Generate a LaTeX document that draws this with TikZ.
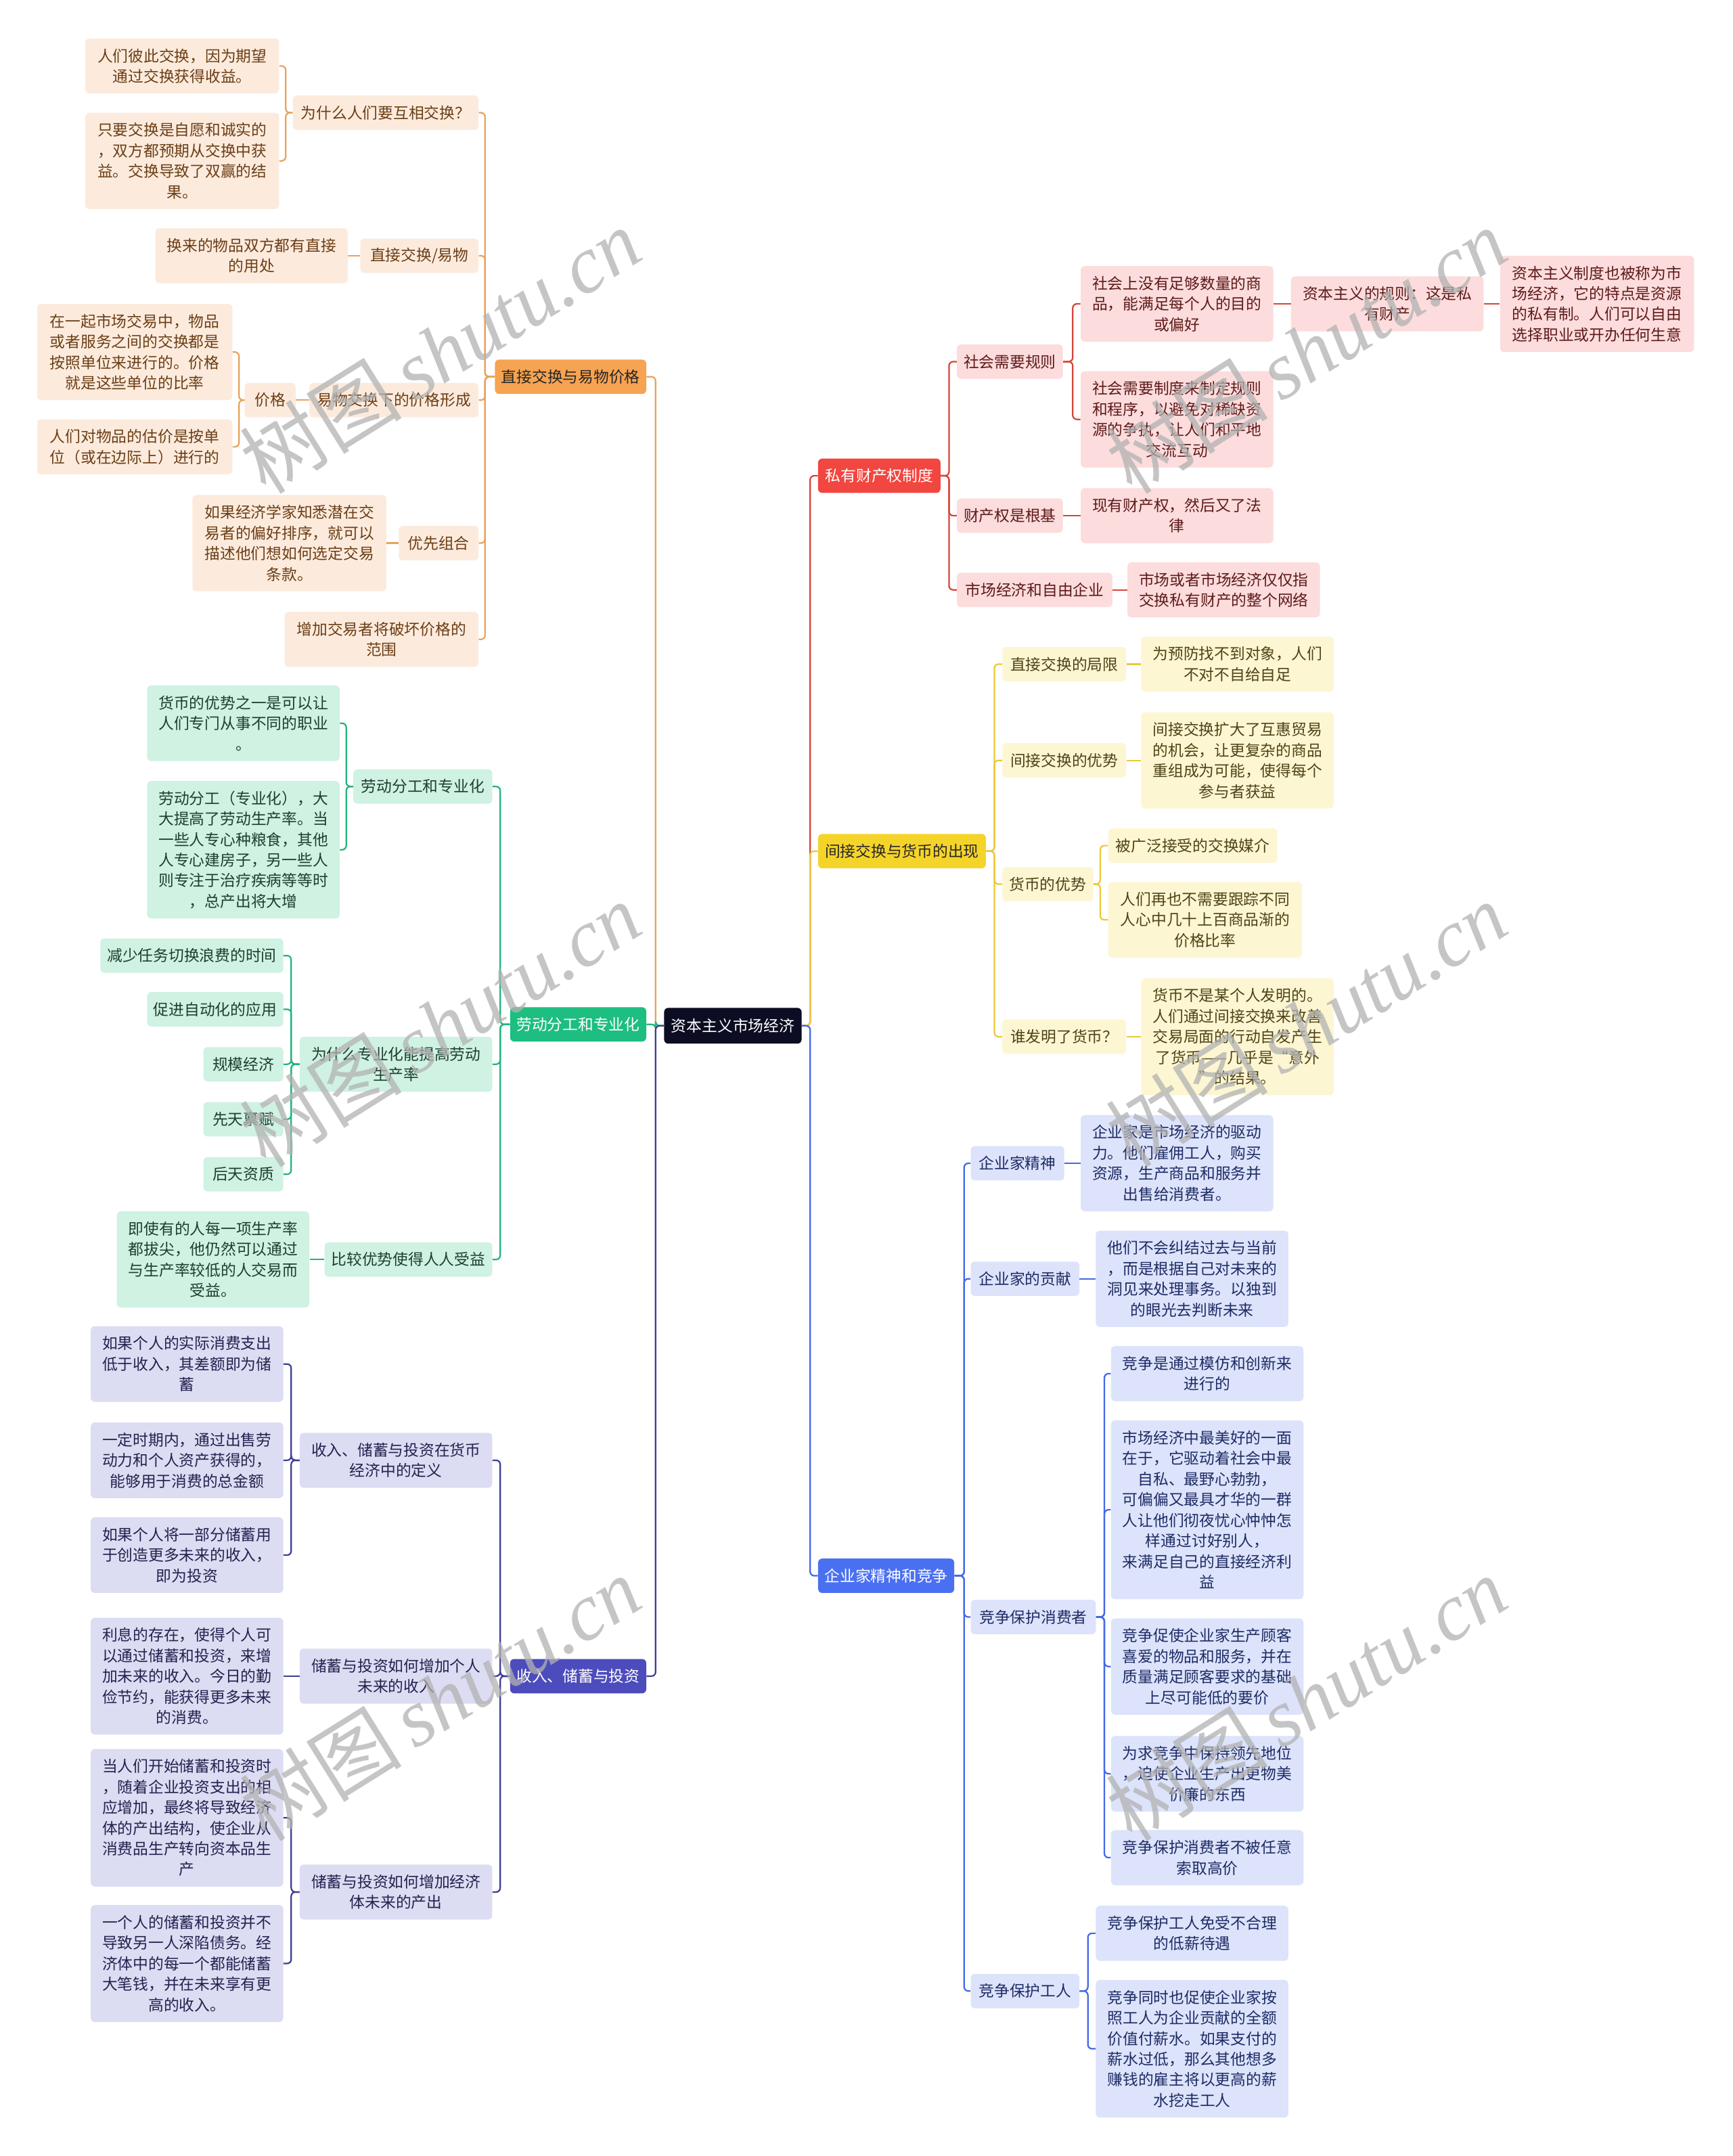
\documentclass[tikz,border=0pt]{standalone}
\usepackage{fontspec}
\setmainfont{Noto Sans CJK SC}
\newfontfamily\wmlatin{Liberation Serif}
\newfontfamily\wmcjk{Noto Sans CJK SC}
\definecolor{rootF}{HTML}{0C0C22}
\definecolor{oL}{HTML}{E9A25C}\definecolor{oM}{HTML}{F6A352}\definecolor{oF}{HTML}{FCEBDD}\definecolor{oT}{HTML}{6B3E16}
\definecolor{gL}{HTML}{22B47C}\definecolor{gM}{HTML}{1DBE80}\definecolor{gF}{HTML}{CFF2E2}\definecolor{gT}{HTML}{1F3D30}
\definecolor{pL}{HTML}{3D3D96}\definecolor{pM}{HTML}{4C4CBD}\definecolor{pF}{HTML}{DCDCF3}\definecolor{pT}{HTML}{22224E}
\definecolor{rL}{HTML}{D6453B}\definecolor{rM}{HTML}{F24640}\definecolor{rF}{HTML}{FCDCDC}\definecolor{rT}{HTML}{5E1A1A}
\definecolor{yL}{HTML}{EDC73A}\definecolor{yM}{HTML}{F5D42A}\definecolor{yF}{HTML}{FDF6D2}\definecolor{yT}{HTML}{4E4216}
\definecolor{bL}{HTML}{4468E6}\definecolor{bM}{HTML}{4A70F2}\definecolor{bF}{HTML}{DCE3FB}\definecolor{bT}{HTML}{1E2B63}
\tikzset{
  base/.style={rounded corners=3pt, align=center, inner sep=0pt, font=\fontsize{11.2pt}{15pt}\selectfont},
  rootbox/.style={base, fill=rootF, text=white},
  obr/.style={base, fill=oM, text=black!85},
  ob/.style={base, fill=oF, text=oT},
  gbr/.style={base, fill=gM, text=white},
  gb/.style={base, fill=gF, text=gT},
  pbr/.style={base, fill=pM, text=white},
  pb/.style={base, fill=pF, text=pT},
  rbr/.style={base, fill=rM, text=white},
  rb/.style={base, fill=rF, text=rT},
  ybr/.style={base, fill=yM, text=black!85},
  yb/.style={base, fill=yF, text=yT},
  bbr/.style={base, fill=bM, text=white},
  bb/.style={base, fill=bF, text=bT},
  ol/.style={draw=oL, line width=1.1pt, rounded corners=3pt},
  gl/.style={draw=gL, line width=1.1pt, rounded corners=3pt},
  pl/.style={draw=pL, line width=1.1pt, rounded corners=3pt},
  rl/.style={draw=rL, line width=1.1pt, rounded corners=3pt},
  yl/.style={draw=yL, line width=1.1pt, rounded corners=3pt},
  bl/.style={draw=bL, line width=1.1pt, rounded corners=3pt},
  wm/.style={rotate=32, text=black!30, text opacity=0.75, inner sep=0pt, font=\fontsize{59pt}{60pt}\selectfont}
}
\newcommand\mmnode[7]{\node[#2, minimum width=#5pt, minimum height=#6pt] (#1) at (#3,#4) {#7};}
\begin{document}
\begin{tikzpicture}[x=1pt,y=-1pt]
\fill[white] (0,0) rectangle (1260,1568);
\useasboundingbox (0,0) rectangle (1260,1568);

% root
\mmnode{R0}{rootbox}{533}{746}{100}{26}{资本主义市场经济}

% ===== orange =====
\mmnode{BrO}{obr}{415}{274}{110}{25}{直接交换与易物价格}
\mmnode{A}{ob}{280.5}{82}{135}{25}{为什么人们要互相交换？}
\mmnode{A1}{ob}{132.5}{48}{141}{40}{人们彼此交换，因为期望\\通过交换获得收益。}
\mmnode{A2}{ob}{132.5}{117}{141}{70}{只要交换是自愿和诚实的\\，双方都预期从交换中获\\益。交换导致了双赢的结\\果。}
\mmnode{B}{ob}{305}{186}{86}{25}{直接交换/易物}
\mmnode{B1}{ob}{183}{186}{140}{40}{换来的物品双方都有直接\\的用处}
\mmnode{C0}{ob}{286.5}{291}{123}{25}{易物交换下的价格形成}
\mmnode{C}{ob}{196.5}{291}{37}{25}{价格}
\mmnode{C1}{ob}{98}{256}{142}{70}{在一起市场交易中，物品\\或者服务之间的交换都是\\按照单位来进行的。价格\\就是这些单位的比率}
\mmnode{C2}{ob}{98}{325}{142}{40}{人们对物品的估价是按单\\位（或在边际上）进行的}
\mmnode{D}{ob}{319}{395}{58}{25}{优先组合}
\mmnode{D1}{ob}{210.5}{395}{141}{70}{如果经济学家知悉潜在交\\易者的偏好排序，就可以\\描述他们想如何选定交易\\条款。}
\mmnode{E}{ob}{277.5}{465}{141}{40}{增加交易者将破坏价格的\\范围}

\draw[ol] (R0.west) -- ++(-6,0) |- (BrO.east);
\foreach \c in {A,B,C0,D,E} \draw[ol] (BrO.west) -- ++(-7,0) |- (\c.east);
\foreach \c in {A1,A2} \draw[ol] (A.west) -- ++(-5,0) |- (\c.east);
\draw[ol] (B.west) -- (B1.east);
\draw[ol] (C0.west) -- (C.east);
\foreach \c in {C1,C2} \draw[ol] (C.west) -- ++(-4,0) |- (\c.east);
\draw[ol] (D.west) -- (D1.east);

% ===== green =====
\mmnode{BrG}{gbr}{420.5}{745}{99}{25}{劳动分工和专业化}
\mmnode{F}{gb}{307.5}{572}{101}{25}{劳动分工和专业化}
\mmnode{F1}{gb}{177}{526}{140}{55}{货币的优势之一是可以让\\人们专门从事不同的职业\\。}
\mmnode{F2}{gb}{177}{618}{140}{100}{劳动分工（专业化），大\\大提高了劳动生产率。当\\一些人专心种粮食，其他\\人专心建房子，另一些人\\则专注于治疗疾病等等时\\，总产出将大增}
\mmnode{G}{gb}{288}{774}{140}{40}{为什么专业化能提高劳动\\生产率}
\mmnode{G1}{gb}{139.5}{695}{133}{25}{减少任务切换浪费的时间}
\mmnode{G2}{gb}{156.5}{734}{99}{25}{促进自动化的应用}
\mmnode{G3}{gb}{177}{774}{58}{25}{规模经济}
\mmnode{G4}{gb}{177}{814}{58}{25}{先天禀赋}
\mmnode{G5}{gb}{177}{854}{58}{25}{后天资质}
\mmnode{H}{gb}{297}{916}{122}{25}{比较优势使得人人受益}
\mmnode{H1}{gb}{155}{916}{140}{70}{即使有的人每一项生产率\\都拔尖，他仍然可以通过\\与生产率较低的人交易而\\受益。}

\draw[gl] (R0.west) -- ++(-6,0) |- (BrG.east);
\foreach \c in {F,G,H} \draw[gl] (BrG.west) -- ++(-7,0) |- (\c.east);
\foreach \c in {F1,F2} \draw[gl] (F.west) -- ++(-5,0) |- (\c.east);
\foreach \c in {G1,G2,G3,G4,G5} \draw[gl] (G.west) -- ++(-6,0) |- (\c.east);
\draw[gl] (H.west) -- (H1.east);

% ===== purple =====
\mmnode{BrP}{pbr}{420.5}{1219}{99}{25}{收入、储蓄与投资}
\mmnode{I}{pb}{288}{1062}{140}{40}{收入、储蓄与投资在货币\\经济中的定义}
\mmnode{I1}{pb}{136}{992}{140}{55}{如果个人的实际消费支出\\低于收入，其差额即为储\\蓄}
\mmnode{I2}{pb}{136}{1062}{140}{55}{一定时期内，通过出售劳\\动力和个人资产获得的，\\能够用于消费的总金额}
\mmnode{I3}{pb}{136}{1131}{140}{55}{如果个人将一部分储蓄用\\于创造更多未来的收入，\\即为投资}
\mmnode{J}{pb}{288}{1219}{140}{40}{储蓄与投资如何增加个人\\未来的收入}
\mmnode{J1}{pb}{136}{1219}{140}{85}{利息的存在，使得个人可\\以通过储蓄和投资，来增\\加未来的收入。今日的勤\\俭节约，能获得更多未来\\的消费。}
\mmnode{K}{pb}{288}{1376}{140}{40}{储蓄与投资如何增加经济\\体未来的产出}
\mmnode{K1}{pb}{136}{1322}{140}{100}{当人们开始储蓄和投资时\\，随着企业投资支出的相\\应增加，最终将导致经济\\体的产出结构，使企业从\\消费品生产转向资本品生\\产}
\mmnode{K2}{pb}{136}{1428}{140}{85}{一个人的储蓄和投资并不\\导致另一人深陷债务。经\\济体中的每一个都能储蓄\\大笔钱，并在未来享有更\\高的收入。}

\draw[pl] (R0.west) -- ++(-6,0) |- (BrP.east);
\foreach \c in {I,J,K} \draw[pl] (BrP.west) -- ++(-7,0) |- (\c.east);
\foreach \c in {I1,I2,I3} \draw[pl] (I.west) -- ++(-6,0) |- (\c.east);
\draw[pl] (J.west) -- (J1.east);
\foreach \c in {K1,K2} \draw[pl] (K.west) -- ++(-6,0) |- (\c.east);

% ===== red =====
\mmnode{BrR}{rbr}{639.5}{346}{89}{25}{私有财产权制度}
\mmnode{L}{rb}{734.5}{263}{77}{25}{社会需要规则}
\mmnode{L1}{rb}{856}{221}{140}{55}{社会上没有足够数量的商\\品，能满足每个人的目的\\或偏好}
\mmnode{L1a}{rb}{1009}{221}{140}{40}{资本主义的规则：这是私\\有财产}
\mmnode{L1b}{rb}{1161.5}{221}{141}{70}{资本主义制度也被称为市\\场经济，它的特点是资源\\的私有制。人们可以自由\\选择职业或开办任何生意}
\mmnode{L2}{rb}{856}{305}{140}{70}{社会需要制度来制定规则\\和程序，以避免对稀缺资\\源的争执，让人们和平地\\交流互动}
\mmnode{M}{rb}{734.5}{375}{77}{25}{财产权是根基}
\mmnode{M1}{rb}{856}{375}{140}{40}{现有财产权，然后又了法\\律}
\mmnode{N}{rb}{752.5}{429}{113}{25}{市场经济和自由企业}
\mmnode{N1}{rb}{890}{429}{140}{40}{市场或者市场经济仅仅指\\交换私有财产的整个网络}

\draw[rl] (R0.east) -- ++(6,0) |- (BrR.west);
\foreach \c in {L,M,N} \draw[rl] (BrR.east) -- ++(6,0) |- (\c.west);
\foreach \c in {L1,L2} \draw[rl] (L.east) -- ++(7,0) |- (\c.west);
\draw[rl] (L1.east) -- (L1a.west);
\draw[rl] (L1a.east) -- (L1b.west);
\draw[rl] (M.east) -- (M1.west);
\draw[rl] (N.east) -- (N1.west);

% ===== yellow =====
\mmnode{BrY}{ybr}{656}{619}{122}{25}{间接交换与货币的出现}
\mmnode{O}{yb}{774}{483}{90}{25}{直接交换的局限}
\mmnode{O1}{yb}{900}{483}{140}{40}{为预防找不到对象，人们\\不对不自给自足}
\mmnode{P}{yb}{774}{553}{90}{25}{间接交换的优势}
\mmnode{P1}{yb}{900}{553}{140}{70}{间接交换扩大了互惠贸易\\的机会，让更复杂的商品\\重组成为可能，使得每个\\参与者获益}
\mmnode{Q}{yb}{762}{643}{66}{25}{货币的优势}
\mmnode{Q1}{yb}{867.5}{615}{123}{25}{被广泛接受的交换媒介}
\mmnode{Q2}{yb}{876.5}{669}{141}{55}{人们再也不需要跟踪不同\\人心中几十上百商品渐的\\价格比率}
\mmnode{R}{yb}{774}{754}{90}{25}{谁发明了货币？}
\mmnode{R1}{yb}{900}{754}{140}{85}{货币不是某个人发明的。\\人们通过间接交换来改善\\交易局面的行动自发产生\\了货币——几乎是“意外\\”的结果。}

\draw[yl] (R0.east) -- ++(6,0) |- (BrY.west);
\foreach \c in {O,P,Q,R} \draw[yl] (BrY.east) -- ++(6,0) |- (\c.west);
\draw[yl] (O.east) -- (O1.west);
\draw[yl] (P.east) -- (P1.west);
\foreach \c in {Q1,Q2} \draw[yl] (Q.east) -- ++(5,0) |- (\c.west);
\draw[yl] (R.east) -- (R1.west);

% ===== blue =====
\mmnode{BrB}{bbr}{644.5}{1146}{99}{25}{企业家精神和竞争}
\mmnode{S}{bb}{740}{846}{68}{25}{企业家精神}
\mmnode{S1}{bb}{856}{846}{140}{70}{企业家是市场经济的驱动\\力。他们雇佣工人，购买\\资源，生产商品和服务并\\出售给消费者。}
\mmnode{T}{bb}{745.5}{930}{79}{25}{企业家的贡献}
\mmnode{T1}{bb}{867}{930}{140}{70}{他们不会纠结过去与当前\\，而是根据自己对未来的\\洞见来处理事务。以独到\\的眼光去判断未来}
\mmnode{U}{bb}{751.5}{1176}{91}{25}{竞争保护消费者}
\mmnode{U1}{bb}{878}{999}{140}{40}{竞争是通过模仿和创新来\\进行的}
\mmnode{U2}{bb}{878}{1098}{140}{130}{市场经济中最美好的一面\\在于，它驱动着社会中最\\自私、最野心勃勃，\\可偏偏又最具才华的一群\\人让他们彻夜忧心忡忡怎\\样通过讨好别人，\\来满足自己的直接经济利\\益}
\mmnode{U3}{bb}{878}{1212}{140}{70}{竞争促使企业家生产顾客\\喜爱的物品和服务，并在\\质量满足顾客要求的基础\\上尽可能低的要价}
\mmnode{U4}{bb}{878}{1290}{140}{55}{为求竞争中保持领先地位\\，迫使企业生产出更物美\\价廉的东西}
\mmnode{U5}{bb}{878}{1351}{140}{40}{竞争保护消费者不被任意\\索取高价}
\mmnode{V}{bb}{745.5}{1448}{79}{25}{竞争保护工人}
\mmnode{V1}{bb}{867}{1406}{140}{40}{竞争保护工人免受不合理\\的低薪待遇}
\mmnode{V2}{bb}{867}{1490}{140}{100}{竞争同时也促使企业家按\\照工人为企业贡献的全额\\价值付薪水。如果支付的\\薪水过低，那么其他想多\\赚钱的雇主将以更高的薪\\水挖走工人}

\draw[bl] (R0.east) -- ++(6,0) |- (BrB.west);
\foreach \c in {S,T,U,V} \draw[bl] (BrB.east) -- ++(7,0) |- (\c.west);
\draw[bl] (S.east) -- (S1.west);
\draw[bl] (T.east) -- (T1.west);
\foreach \c in {U1,U2,U3,U4,U5} \draw[bl] (U.east) -- ++(6,0) |- (\c.west);
\foreach \c in {V1,V2} \draw[bl] (V.east) -- ++(6,0) |- (\c.west);

% ===== watermarks =====
\foreach \wx/\wy [count=\i] in {320/255, 950/255, 320/745, 950/745, 320/1235, 950/1235}
  \node[wm] (wm\i) at (\wx,\wy) {{\wmcjk 树图}\,{\wmlatin\itshape shutu.cn}};
\end{tikzpicture}
\end{document}
